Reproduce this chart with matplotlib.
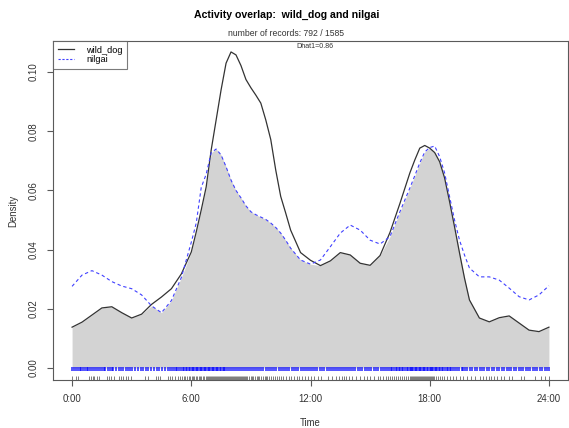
import matplotlib
matplotlib.use("Agg")
import matplotlib.pyplot as plt
from matplotlib.lines import Line2D
import numpy as np

plt.rcParams['font.family'] = ['Liberation Sans', 'DejaVu Sans']

# Time of day (hours) at which both density curves are given
hours = [0, 0.5, 1, 1.5, 2, 2.5, 3, 3.5, 4, 4.5, 5, 5.5, 6, 6.25, 6.5, 6.75,
         7, 7.25, 7.5, 7.75, 8, 8.25, 8.5, 8.75, 9, 9.25, 9.5, 9.75, 10,
         10.25, 10.5, 10.75, 11, 11.5,
         12, 12.5, 13, 13.5, 14, 14.5, 15, 15.5, 16, 16.5, 17, 17.25, 17.5,
         17.75, 18, 18.25, 18.5, 18.75, 19, 19.25, 19.5, 19.75, 20, 20.5, 21,
         21.5, 22, 22.5, 23, 23.5, 24]

wild_dog_density = [0.0138, 0.0155, 0.0179, 0.0203, 0.0207, 0.0187, 0.0169,
                     0.0182, 0.0215, 0.0240, 0.0268, 0.0318, 0.0392, 0.0460,
                     0.0534, 0.0612, 0.0736, 0.0838, 0.0940, 0.1030, 0.1068,
                     0.1058, 0.1022, 0.0975, 0.0947, 0.0922, 0.0895, 0.0838,
                     0.0772, 0.0669, 0.0580, 0.0524,
                     0.0466, 0.0390, 0.0364, 0.0346, 0.0362, 0.0390, 0.0382,
                     0.0354, 0.0347, 0.0380, 0.0458, 0.0556, 0.0659, 0.0703,
                     0.0743, 0.0752, 0.0743, 0.0728, 0.0697, 0.0642, 0.0562,
                     0.0477, 0.0389, 0.0304, 0.0230, 0.0169, 0.0156, 0.0170,
                     0.0176, 0.0152, 0.0128, 0.0123, 0.0138]

nilgai_density = [0.0276, 0.0314, 0.0329, 0.0314, 0.0292, 0.0277, 0.0268,
                  0.0247, 0.0210, 0.0187, 0.0228, 0.0306, 0.0425, 0.0490,
                  0.0610, 0.0655, 0.0727, 0.0740, 0.0720, 0.0680, 0.0635,
                  0.0600, 0.0575, 0.0548, 0.0528, 0.0518, 0.0510, 0.0502,
                  0.0490, 0.0475, 0.0456, 0.0432,
                  0.0405, 0.0365, 0.0351, 0.0365, 0.0410, 0.0456, 0.0483,
                  0.0466, 0.0432, 0.0419, 0.0444, 0.0528, 0.0608, 0.0650,
                  0.0693, 0.0730, 0.0745, 0.0750, 0.0714, 0.0659, 0.0579,
                  0.0500, 0.0432, 0.0382, 0.0338, 0.0308, 0.0308, 0.0297,
                  0.0270, 0.0241, 0.0230, 0.0247, 0.0278]

# Record times (hours) shown as rugs
wild_dog_times = [0.02, 0.18, 0.28, 0.85, 0.95, 1.05, 1.12, 1.25, 1.38, 1.78,
                  1.88, 1.98, 2.1, 2.35, 2.45, 2.58, 2.7, 2.82, 2.95, 3.68,
                  3.8, 4.2, 4.3, 4.42, 4.82, 4.92, 5.05, 5.2, 5.32, 5.45, 5.55,
                  5.62, 5.7, 5.8, 5.88, 5.95, 6.02, 6.1, 6.15, 6.22, 6.3, 6.38,
                  6.45, 6.5, 6.58, 6.65, 6.72, 6.78, 6.85, 6.9, 6.95, 7.0,
                  7.05, 7.1, 7.15, 7.2, 7.25, 7.3, 7.35, 7.4, 7.45, 7.5, 7.55,
                  7.6, 7.65, 7.7, 7.75, 7.8, 7.85, 7.9, 7.95, 8.0, 8.05, 8.1,
                  8.15, 8.2, 8.25, 8.3, 8.35, 8.4, 8.45, 8.5, 8.55, 8.6, 8.65,
                  8.7, 8.75, 8.8, 8.9, 9.0, 9.05, 9.1, 9.2, 9.3, 9.35, 9.4,
                  9.5, 9.6, 9.7, 9.75, 9.8, 9.9, 10.0, 10.1, 10.2, 10.3, 10.4,
                  10.5, 10.6, 10.75, 10.9, 11.0, 11.15, 11.3, 11.4, 11.55,
                  11.7, 11.85, 12.0, 12.2, 12.4, 12.55, 12.9, 13.1, 13.3,
                  13.45, 13.6, 13.7, 13.8, 13.95, 14.1, 14.3, 14.5, 14.7,
                  14.85, 15.0, 15.2, 15.4, 15.5, 15.65, 15.8, 15.9, 16.0,
                  16.1, 16.2, 16.3, 16.4, 16.5, 16.6, 16.7, 16.8, 16.9, 17.0,
                  17.05, 17.1, 17.15, 17.2, 17.25, 17.3, 17.35, 17.4, 17.45,
                  17.5, 17.55, 17.6, 17.65, 17.7, 17.75, 17.8, 17.85, 17.9,
                  17.95, 18.0, 18.05, 18.1, 18.15, 18.2, 18.3, 18.4, 18.5,
                  18.6, 18.7, 18.85, 19.0, 19.15, 19.3, 19.5, 19.7, 19.9,
                  20.1, 20.3, 20.55, 20.7, 20.85, 21.0, 21.1, 21.25, 21.4,
                  21.6, 21.75, 22.0, 22.15, 22.6, 22.75, 23.3, 23.6, 23.8,
                  24.0]

nilgai_times = [0.02, 0.1, 0.2, 0.28, 0.38, 0.47, 0.55, 0.65, 0.75, 0.82, 0.9,
                1.0, 1.1, 1.18, 1.3, 1.42, 1.5, 1.6, 1.68, 1.8, 1.92,
                2.0, 2.08, 2.2, 2.35, 2.45, 2.55, 2.7, 2.8, 2.9,
                3.02, 3.15, 3.3, 3.45, 3.55, 3.7, 3.82, 3.95,
                4.1, 4.25, 4.4, 4.55, 4.7, 4.82, 4.92,
                5.02, 5.12, 5.22, 5.3, 5.4, 5.5, 5.58, 5.65, 5.72, 5.8, 5.88,
                5.95,
                6.02, 6.08, 6.15, 6.22, 6.28, 6.35, 6.42, 6.48, 6.55, 6.62,
                6.68, 6.75, 6.82, 6.88, 6.95,
                7.02, 7.08, 7.15, 7.22, 7.28, 7.35, 7.42, 7.5, 7.58, 7.65,
                7.72, 7.8, 7.9,
                8.0, 8.1, 8.2, 8.3, 8.38, 8.48, 8.58, 8.7, 8.8, 8.9,
                9.0, 9.1, 9.2, 9.3, 9.42, 9.52, 9.62, 9.75, 9.85, 9.95,
                10.05, 10.15, 10.28, 10.4, 10.5, 10.6, 10.72, 10.82, 10.92,
                11.05, 11.15, 11.25, 11.38, 11.5, 11.6, 11.7, 11.82, 11.92,
                12.02, 12.12, 12.25, 12.35, 12.48, 12.6, 12.7, 12.82, 12.92,
                13.05, 13.15, 13.25, 13.35, 13.45, 13.55, 13.65, 13.75, 13.85,
                13.95,
                14.05, 14.15, 14.25, 14.38, 14.5, 14.6, 14.72, 14.82, 14.92,
                15.05, 15.18, 15.3, 15.42, 15.55, 15.65, 15.75, 15.85, 15.95,
                16.05, 16.12, 16.2, 16.28, 16.36, 16.45, 16.52, 16.6, 16.68,
                16.76, 16.84, 16.92,
                17.0, 17.06, 17.12, 17.18, 17.25, 17.32, 17.38, 17.45, 17.52,
                17.58, 17.65, 17.72, 17.78, 17.85, 17.92,
                18.0, 18.06, 18.12, 18.18, 18.25, 18.32, 18.38, 18.45, 18.52,
                18.6, 18.68, 18.76, 18.85, 18.92,
                19.0, 19.08, 19.18, 19.28, 19.38, 19.48, 19.6, 19.7, 19.8,
                19.9,
                20.02, 20.15, 20.28, 20.4, 20.52, 20.65, 20.75, 20.88,
                21.0, 21.12, 21.25, 21.38, 21.5, 21.62, 21.75, 21.88,
                22.0, 22.1, 22.22, 22.35, 22.48, 22.6, 22.72, 22.85, 22.95,
                23.05, 23.18, 23.3, 23.42, 23.55, 23.65, 23.78, 23.9, 24.0]

x_ticks = [0, 6, 12, 18, 24]
x_tick_labels = ["0:00", "6:00", "12:00", "18:00", "24:00"]
y_ticks = [0.00, 0.02, 0.04, 0.06, 0.08, 0.10]
y_tick_labels = ["0.00", "0.02", "0.04", "0.06", "0.08", "0.10"]

series_names = ["wild_dog", "nilgai"]
title = "Activity overlap:  wild_dog and nilgai"
subtitle = "number of records: 792 / 1585"
dhat_label = "Dhat1=0.86"

axis_grey = "#5a5a5a"
text_grey = "#333333"
line_dark = "#333333"
line_blue = "#4040ff"

fig = plt.figure(figsize=(5.69, 4.28), dpi=100)
ax = fig.add_axes([53 / 569, 1 - 380 / 428, 515 / 569, 339 / 428])

h = np.array(hours)
wd = np.array(wild_dog_density)
ng = np.array(nilgai_density)

# Overlap area
ax.fill_between(h, 0, np.minimum(wd, ng), color="#d3d3d3", lw=0, zorder=1)

ax.plot(h, wd, color=line_dark, lw=0.9, zorder=3, solid_joinstyle="round")
ax.plot(h, ng, color=line_blue, lw=0.8, linestyle=(0, (3, 2.5)), zorder=3)

# Rugs of record times
ax.vlines(nilgai_times, -0.0011, 0.0003, color="blue", lw=1.1, alpha=0.85,
          zorder=2)
ax.vlines(wild_dog_times, -0.0039, -0.0026, color="black", lw=0.6,
          alpha=0.6, zorder=2)

ax.set_xlim(-0.96, 24.96)
ax.set_ylim(-0.00405, 0.1105)

ax.set_xticks(x_ticks)
ax.set_xticklabels(x_tick_labels)
ax.set_yticks(y_ticks)
ax.set_yticklabels(y_tick_labels, rotation=90, va="center")
ax.tick_params(axis="both", direction="out", length=4, width=0.8,
               colors=axis_grey, labelcolor=text_grey, labelsize=6.9)
ax.tick_params(axis="x", pad=6)
ax.tick_params(axis="y", pad=6)

for sp in ax.spines.values():
    sp.set_color(axis_grey)
    sp.set_linewidth(0.8)

ax.set_xlabel("Time", fontsize=6.9, color=text_grey, labelpad=10)
ax.set_ylabel("Density", fontsize=6.9, color=text_grey, labelpad=8)

fig.text(287 / 569, 1 - 15 / 428, title, ha="center", va="center",
         fontsize=7.6, fontweight="bold", color="black")
fig.text(286 / 569, 1 - 33 / 428, subtitle, ha="center", va="center",
         fontsize=6.2, color=text_grey)
fig.text(315 / 569, 1 - 47 / 428, dhat_label, ha="center", va="center",
         fontsize=5.1, color=text_grey)

handles = [Line2D([], [], color=line_dark, lw=0.9),
           Line2D([], [], color=line_blue, lw=0.8, linestyle=(0, (2, 1.5)))]
leg = ax.legend(handles, series_names, loc="upper left",
                bbox_to_anchor=(0, 1), borderaxespad=0, fontsize=6.6,
                frameon=True, fancybox=False, handlelength=1.8,
                handletextpad=1.3, labelspacing=0.05, borderpad=0.5)
leg.get_frame().set_edgecolor(axis_grey)
leg.get_frame().set_linewidth(0.8)

fig.savefig("out.png", dpi=100)
